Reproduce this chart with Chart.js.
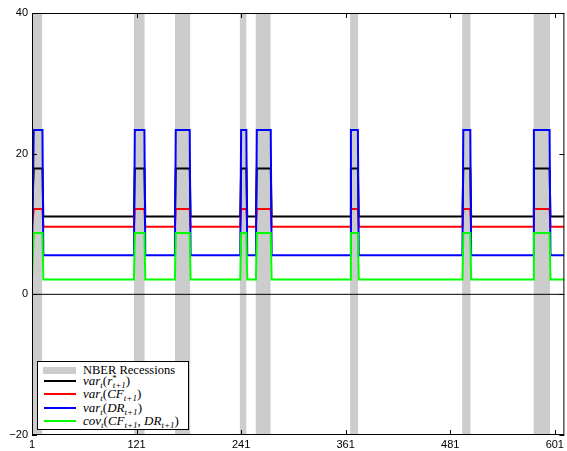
<!DOCTYPE html>
<html><head><meta charset="utf-8">
<script src="https://cdn.jsdelivr.net/npm/chart.js@4.4.0/dist/chart.umd.min.js"></script>
<style>
html,body{margin:0;padding:0;background:#fff;width:567px;height:451px;overflow:hidden}
#wrap{position:relative;width:567px;height:451px}
canvas{position:absolute;left:0;top:0}
#legend{position:absolute;left:37px;top:361px;width:150px;height:67px;border:1px solid #000;background:#fff;font-family:"Liberation Serif","DejaVu Serif",serif;font-size:13px;color:#000}
.row{position:absolute;left:0;height:14px;width:150px}
.sw{position:absolute;left:6px;width:32px;top:6px;height:2px}
.gsw{position:absolute;left:5px;width:33px;top:4px;height:7px;background:#cccccc}
.txt{position:absolute;left:45px;top:0;line-height:14px;white-space:nowrap}
.m{font-style:italic}
.sb{font-size:9px;position:relative;top:3px;font-style:italic}
.sp{font-size:9px;position:relative;top:-4px;font-style:normal}
</style>
</head><body>
<div id="wrap">
<canvas id="c" width="567" height="451"></canvas>
<div id="legend">
  <div class="row" style="top:1px"><div class="gsw"></div><div class="txt" style="font-size:12.5px">NBER Recessions</div></div>
  <div class="row" style="top:12px"><div class="sw" style="background:#000"></div><div class="txt"><span class="m">var</span><span class="sb">t</span>(<span class="m">r</span><span class="sp">*</span><span class="sb" style="margin-left:-4px">t+1</span>)</div></div>
  <div class="row" style="top:25px"><div class="sw" style="background:#ff0000"></div><div class="txt"><span class="m">var</span><span class="sb">t</span>(<span class="m">CF</span><span class="sb">t+1</span>)</div></div>
  <div class="row" style="top:38.5px"><div class="sw" style="background:#0000ff"></div><div class="txt"><span class="m">var</span><span class="sb">t</span>(<span class="m">DR</span><span class="sb">t+1</span>)</div></div>
  <div class="row" style="top:52px"><div class="sw" style="background:#00ff00"></div><div class="txt"><span class="m">cov</span><span class="sb">t</span>(<span class="m">CF</span><span class="sb">t+1</span>, <span class="m">DR</span><span class="sb">t+1</span>)</div></div>
</div>
</div>
<script>
// ---- data ----
const xTickValues = [1, 121, 241, 361, 481, 601];
const xRange = [1, 612];
const yTickRange = [-20, 40];
const yStep = 20;

// NBER recession bands (month index)
const recStart = [1, 118, 165, 239.3, 257.5, 366, 494.6, 576.5];
const recEnd   = [12.9, 130.4, 182.8, 247.2, 275, 375.5, 504.5, 595.5];

// months where the step series change, and regime (0 = normal, 1 = recession)
const months = [1, 2, 3, 13, 14, 118, 119, 130, 131, 165, 166, 182, 183, 240, 241, 247, 248,
                258, 259, 275, 276, 366, 367, 375, 376, 495, 496, 504, 505, 576, 577, 595, 596, 612];
const regime = [0, 0, 1, 1, 0, 0, 1, 1, 0, 0, 1, 1, 0, 0, 1, 1, 0,
                0, 1, 1, 0, 0, 1, 1, 0, 0, 1, 1, 0, 0, 1, 1, 0, 0];

// levels [normal, recession]
const varR    = [11.05, 17.9];
const varCF   = [9.62, 12.14];
const varDR   = [5.57, 23.38];
const covCFDR = [2.1, 8.71];

// ---- build datasets ----
function stepData(levels){ return months.map((m,i)=>({x:m, y:levels[regime[i]]})); }
function lineDs(levels,color,order){
  return {data:stepData(levels),showLine:true,borderColor:color,backgroundColor:color,borderWidth:2,
          pointRadius:0,tension:0,fill:false,order:order};
}
const datasets = [
  lineDs(covCFDR,'#00ff00',1),
  lineDs(varDR,'#0000ff',2),
  lineDs(varCF,'#ff0000',3),
  lineDs(varR,'#000000',4),
  {data:[{x:xRange[0],y:0},{x:xRange[1],y:0}],showLine:true,borderColor:'#000',borderWidth:1,pointRadius:0,fill:false,order:5}
];
recStart.forEach((s,i)=>{
  datasets.push({data:[{x:s,y:yTickRange[1]},{x:recEnd[i],y:yTickRange[1]}],showLine:true,
    borderColor:'rgba(0,0,0,0)',borderWidth:0,backgroundColor:'#cccccc',pointRadius:0,fill:'start',order:10});
});

const framePlugin = {
  id:'frame',
  afterDraw(chart){
    const {ctx, chartArea:{left,right,top,bottom}, scales:{x,y}} = chart;
    ctx.save();
    ctx.strokeStyle='#000'; ctx.lineWidth=1;
    ctx.strokeRect(left+0.5, top+0.5, right-left-1, bottom-top-1);
    const L=5;
    ctx.beginPath();
    xTickValues.forEach(v=>{
      const px=Math.round(x.getPixelForValue(v))+0.5;
      ctx.moveTo(px,bottom); ctx.lineTo(px,bottom-L);
      ctx.moveTo(px,top); ctx.lineTo(px,top+L);
    });
    y.ticks.forEach(t=>{
      const py=Math.round(y.getPixelForValue(t.value))+0.5;
      ctx.moveTo(left,py); ctx.lineTo(left+L,py);
      ctx.moveTo(right,py); ctx.lineTo(right-L,py);
    });
    ctx.stroke();
    ctx.restore();
  }
};

new Chart(document.getElementById('c'), {
  type:'scatter',
  data:{datasets},
  options:{
    responsive:false, animation:false,
    layout:{padding:{top:13,right:1,left:0,bottom:0}},
    plugins:{legend:{display:false},tooltip:{enabled:false}},
    scales:{
      x:{type:'linear',min:xRange[0],max:xRange[1],
         grid:{display:false,drawTicks:false},border:{display:false},
         afterBuildTicks:(s)=>{s.ticks=xTickValues.map(v=>({value:v}));},
         afterFit:(s)=>{s.height=16;},
         ticks:{autoSkip:false,maxRotation:0,padding:3,color:'#000',font:{family:'"Liberation Sans", Arial, sans-serif',size:11}}},
      y:{type:'linear',min:yTickRange[0],max:yTickRange[1],
         grid:{display:false,drawTicks:false},border:{display:false},
         afterFit:(s)=>{s.width=32;},
         ticks:{stepSize:yStep,padding:4,color:'#000',font:{family:'"Liberation Sans", Arial, sans-serif',size:11},
                callback:(v)=> v<0 ? '\u2212'+Math.abs(v) : String(v)}}
    }
  },
  plugins:[framePlugin]
});
</script>
</body></html>
